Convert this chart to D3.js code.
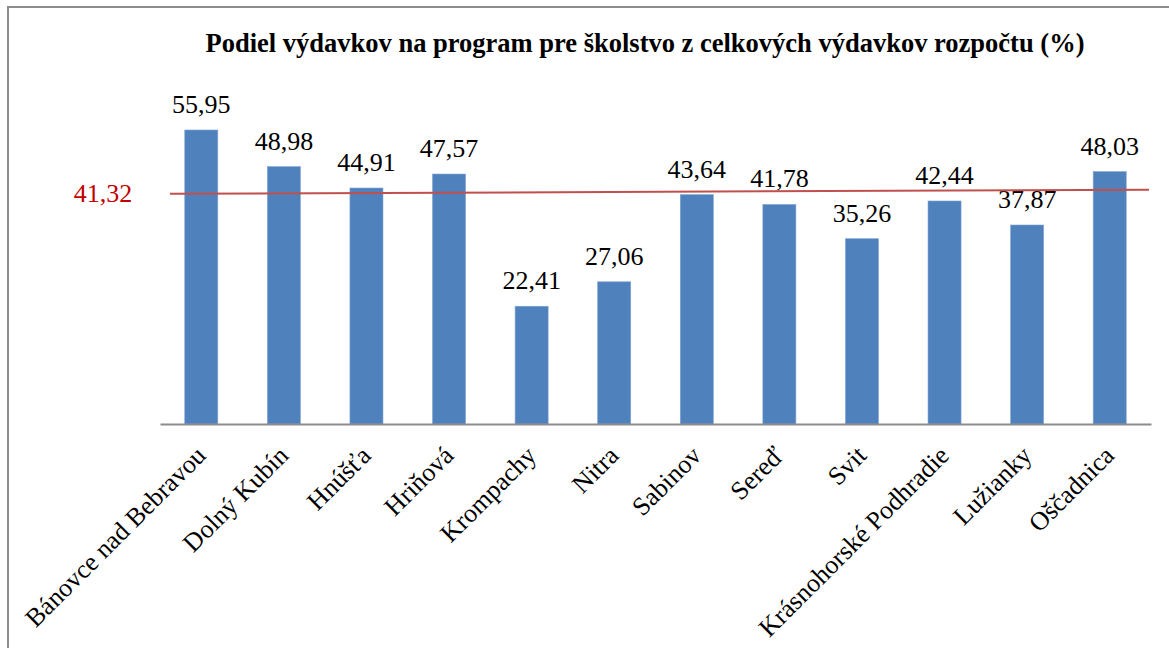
<!DOCTYPE html>
<html>
<head>
<meta charset="utf-8">
<script src="https://cdn.jsdelivr.net/npm/d3@7"></script>
<style>
  body { margin: 0; background: #fff; }
  svg { display: block; }
  svg text { font-family: "Liberation Serif", "Times New Roman", serif; }
</style>
</head>
<body>
<svg id="chart" width="1169" height="648"></svg>
<script>
const towns = ["Bánovce nad Bebravou", "Dolný Kubín", "Hnúšťa", "Hriňová", "Krompachy", "Nitra",
    "Sabinov", "Sereď", "Svit", "Krásnohorské Podhradie", "Lužianky", "Oščadnica"];
const shares = [55.95, 48.98, 44.91, 47.57, 22.41, 27.06, 43.64, 41.78, 35.26, 42.44, 37.87, 48.03];
const average = 41.32;
// the average line in the source is hand placed, slightly above its value and tilted
const avgLineLevels = [43.8, 44.6];
const titleText = "Podiel výdavkov na program pre školstvo z celkových výdavkov rozpočtu (%)";

const svg = d3.select("#chart");
const serif = "'Liberation Serif', 'Times New Roman', serif";
const fmt = v => d3.format(".2f")(v).replace(".", ",");

const plot = { left: 160, right: 1151, top: 130, bottom: 424 };

const x = d3.scaleBand()
    .domain(towns)
    .range([plot.left, plot.right])
    .paddingInner(0.6)
    .paddingOuter(0.3);

const y = d3.scaleLinear()
    .domain([0, 55.95])
    .range([plot.bottom, plot.top]);

// frame (only left and top edges show in the source)
svg.append("rect")
    .attr("x", 8).attr("y", 7)
    .attr("width", 1300).attr("height", 800)
    .attr("fill", "none")
    .attr("stroke", "#8c8c8c")
    .attr("stroke-width", 2);

svg.append("text")
    .attr("x", 645).attr("y", 52)
    .attr("text-anchor", "middle")
    .attr("font-family", serif)
    .attr("font-weight", "bold")
    .attr("font-size", 26.5)
    .text(titleText);

// bars
svg.append("g").selectAll("rect")
    .data(shares)
    .join("rect")
    .attr("x", (d, i) => x(towns[i]))
    .attr("y", d => y(d))
    .attr("width", x.bandwidth())
    .attr("height", d => y(0) - y(d))
    .attr("fill", "#4f81bd")
    .attr("stroke", "#7ea3d3")
    .attr("stroke-width", 0.6);

// value labels
svg.append("g").selectAll("text")
    .data(shares)
    .join("text")
    .attr("x", (d, i) => x(towns[i]) + x.bandwidth() / 2)
    .attr("y", d => y(d) - 17)
    .attr("text-anchor", "middle")
    .attr("font-family", serif)
    .attr("font-size", 26)
    .attr("fill", "#000")
    .text(d => fmt(d));

// category axis
const xAxis = svg.append("g")
    .attr("transform", `translate(0,${plot.bottom})`)
    .call(d3.axisBottom(x).tickSize(0).tickFormat(""));
xAxis.select(".domain").attr("stroke", "#8c8c8c").attr("stroke-width", 2);

svg.append("g").selectAll("text")
    .data(towns)
    .join("text")
    .attr("transform", d => `translate(${x(d) + x.bandwidth() / 2 + 6},${plot.bottom + 33}) rotate(-45)`)
    .attr("text-anchor", "end")
    .attr("font-family", serif)
    .attr("font-size", 26)
    .attr("fill", "#000")
    .text(d => d);

// average line
svg.append("line")
    .attr("x1", 170).attr("x2", 1149)
    .attr("y1", y(avgLineLevels[0]))
    .attr("y2", y(avgLineLevels[1]))
    .attr("stroke", "#c0504d")
    .attr("stroke-width", 2);

svg.append("text")
    .attr("x", 103).attr("y", y(avgLineLevels[0]) + 8)
    .attr("text-anchor", "middle")
    .attr("font-family", serif)
    .attr("font-size", 26)
    .attr("fill", "#c00000")
    .text(fmt(average));
</script>
</body>
</html>
